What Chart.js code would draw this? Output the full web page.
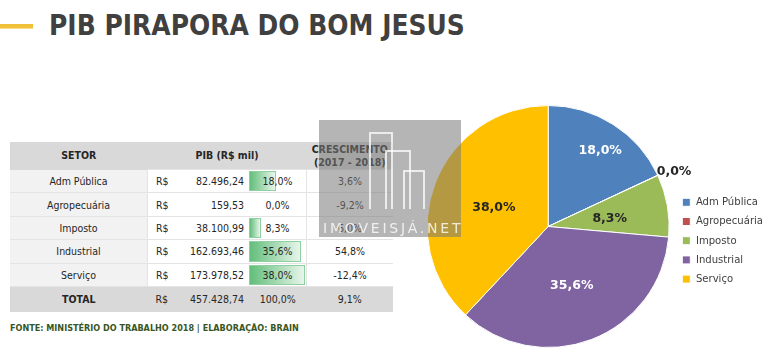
<!DOCTYPE html>
<html>
<head>
<meta charset="utf-8">
<script src="https://cdn.jsdelivr.net/npm/chart.js@4"></script>
<style>
body{margin:0;width:768px;height:359px;background:#fff;position:relative;overflow:hidden;font-family:"DejaVu Sans Condensed","Liberation Sans",sans-serif;}
#barra{position:absolute;left:0;top:24px;width:33px;height:4px;background:#f2c13c;border-bottom:1px solid #f7dc8a;}
#titulo{position:absolute;left:49px;top:9px;font-family:"DejaVu Sans";font-size:28px;font-weight:bold;color:#404040;transform:scaleX(0.893);transform-origin:0 0;white-space:nowrap;}
#tabela{position:absolute;left:10px;top:142px;border-collapse:collapse;font-size:10.5px;color:#262626;}
#tabela td{padding:0;height:22.4px;border-bottom:1px solid #e4e4e4;}
#tabela .cab td{background:#d9d9d9;height:27px;font-weight:bold;text-align:center;line-height:13px;}
#tabela .tot td{background:#d9d9d9;height:25px;border:none;}
.setor{width:137px;text-align:center;background:#f2f2f2;border-right:1px solid #e4e4e4;}
.rs{width:26px;padding-left:8px !important;}
.val{width:62px;text-align:right;padding-right:5px !important;}
.pct{width:57px;text-align:center;position:relative;border-right:1px solid #e4e4e4;}
.pct span{position:relative;}
.pct .db{position:absolute;left:0;top:1px;bottom:1px;background:linear-gradient(to right,#63be7b,#e8f5eb);border:1px solid #8fd0a0;box-sizing:border-box;}
.cres{width:86px;text-align:center;}
#fonte{position:absolute;left:10px;top:323px;font-size:9px;font-weight:bold;color:#375623;}
#grafico{position:absolute;left:410px;top:100px;}
#marca{position:absolute;left:319px;top:120px;width:142px;height:117px;background:rgba(120,120,120,0.55);}
#marca .txt{position:absolute;left:4px;top:100px;font-family:"DejaVu Sans";font-size:14px;color:rgba(255,255,255,0.8);letter-spacing:2.8px;}
#marca .pr{position:absolute;border:2px solid rgba(255,255,255,0.75);border-bottom:none;}
</style>
</head>
<body>
<div id="barra"></div>
<div id="titulo">PIB PIRAPORA DO BOM JESUS</div>
<table id="tabela"></table>
<div id="fonte">FONTE: MINISTÉRIO DO TRABALHO 2018 | ELABORAÇÃO: BRAIN</div>
<canvas id="grafico" width="363" height="256"></canvas>
<div id="marca">
  <div class="pr" style="left:50px;top:12px;width:20px;height:75px;"></div>
  <div class="pr" style="left:66px;top:30px;width:22px;height:57px;"></div>
  <div class="pr" style="left:84px;top:50px;width:18px;height:37px;"></div>
  <div class="txt">IMOVEISJÁ.NET</div>
</div>

<script>
var setores=["Adm Pública","Agropecuária","Imposto","Industrial","Serviço"];
var pibValores=[82496.24,159.53,38100.99,162693.46,173978.52];
var pibTexto=["82.496,24","159,53","38.100,99","162.693,46","173.978,52"];
var pibPct=[18.0,0.0,8.3,35.6,38.0];
var crescimento=["3,6%","-9,2%","6,0%","54,8%","-12,4%"];
var total=["457.428,74","100,0%","9,1%"];
var cores=["#4f81bd","#c0504d","#9bbb59","#8064a2","#ffc000"];

function fmtPct(v){ return v.toFixed(1).replace('.',',')+'%'; }

// tabela
var html='<tr class="cab"><td class="setor" style="background:#d9d9d9;border:none">SETOR</td><td colspan="3">PIB (R$ mil)</td><td class="cres">CRESCIMENTO<br>(2017 - 2018)</td></tr>';
var maxPct=Math.max.apply(null,pibPct);
for(var i=0;i<setores.length;i++){
  var w=Math.round(pibPct[i]/maxPct*56);
  html+='<tr><td class="setor">'+setores[i]+'</td><td class="rs">R$</td><td class="val">'+pibTexto[i]+'</td>'+
        '<td class="pct">'+(w>0?'<div class="db" style="width:'+w+'px"></div>':'')+'<span>'+fmtPct(pibPct[i])+'</span></td>'+
        '<td class="cres">'+crescimento[i]+'</td></tr>';
}
html+='<tr class="tot"><td class="setor" style="background:#d9d9d9;border:none;font-weight:bold">TOTAL</td><td class="rs">R$</td><td class="val">'+total[0]+'</td><td class="pct" style="border:none">'+total[1]+'</td><td class="cres">'+total[2]+'</td></tr>';
document.getElementById('tabela').innerHTML=html;

// rotulos dentro/fora da pizza
var posRotulo=[0.77,1.13,0.5,0.5,0.5];
var corRotulo=["#ffffff","#262626","#262626","#ffffff","#262626"];
var rotulos={
  id:'rotulos',
  afterDatasetsDraw:function(chart){
    var ctx=chart.ctx;
    var arcs=chart.getDatasetMeta(0).data;
    ctx.save();
    ctx.font='bold 12.5px "DejaVu Sans"';
    ctx.textAlign='center';
    ctx.textBaseline='middle';
    arcs.forEach(function(a,i){
      var ang=(a.startAngle+a.endAngle)/2;
      var r=a.outerRadius*posRotulo[i];
      ctx.fillStyle=corRotulo[i];
      ctx.fillText(fmtPct(pibPct[i]),a.x+Math.cos(ang)*r+2,a.y+Math.sin(ang)*r+3);
    });
    ctx.restore();
  }
};

new Chart(document.getElementById('grafico'),{
  type:'pie',
  data:{
    labels:setores,
    datasets:[{
      data:pibValores,
      backgroundColor:cores,
      borderColor:'#ffffff',
      borderWidth:1
    }]
  },
  options:{
    responsive:false,
    animation:false,
    radius:121,
    layout:{padding:{left:12,top:0,bottom:3,right:0}},
    plugins:{
      tooltip:{enabled:false},
      legend:{
        position:'right',
        title:{display:true,text:' ',padding:7,font:{size:12}},
        labels:{
          boxWidth:8,
          boxHeight:8,
          padding:8,
          color:'#404040',
          font:{size:11.2,family:'"DejaVu Sans Condensed", "Liberation Sans"'}
        }
      }
    }
  },
  plugins:[rotulos]
});
</script>
</body>
</html>
